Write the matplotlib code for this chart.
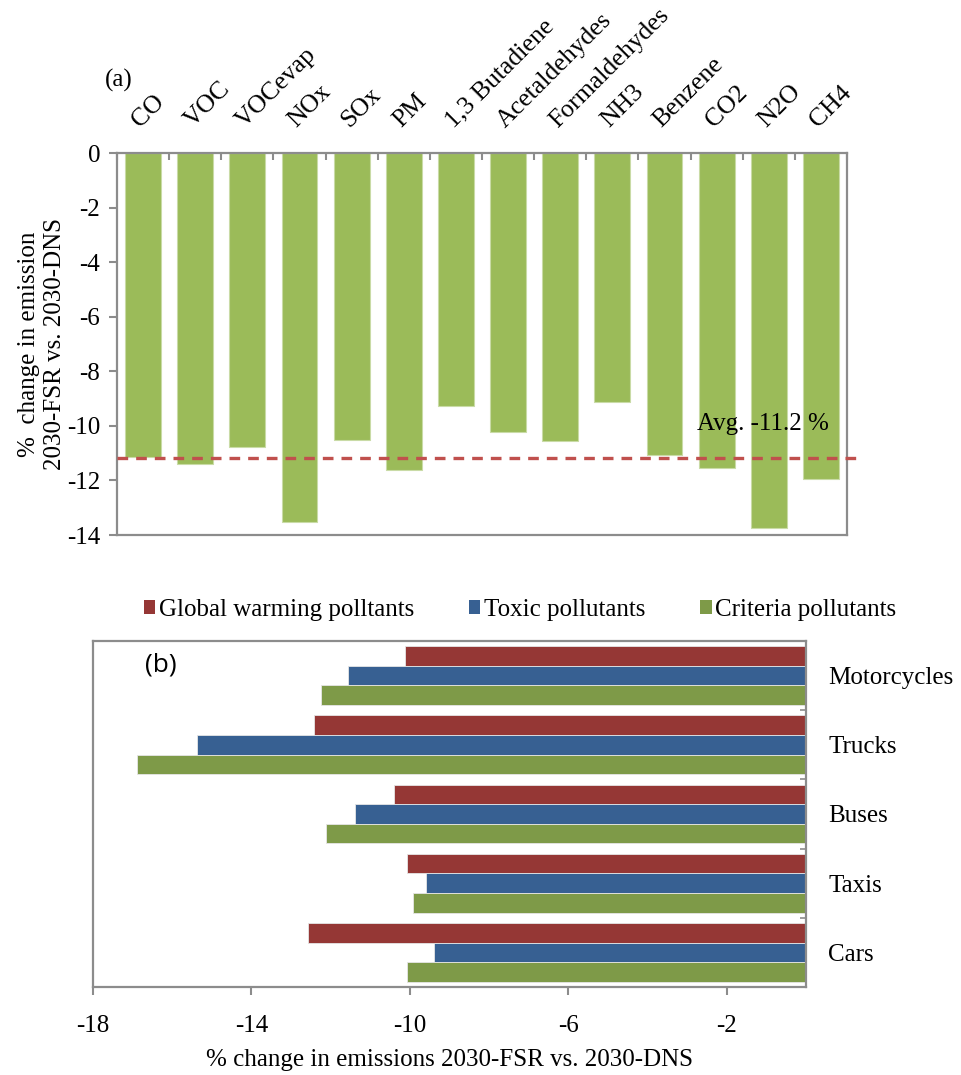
import numpy as np
import matplotlib
matplotlib.use("Agg")
import matplotlib.pyplot as plt
from matplotlib.patches import Patch

plt.rcParams['font.family'] = ['Liberation Serif', 'DejaVu Serif']
plt.rcParams['font.size'] = 18

# ---- panel (a): change per pollutant ----
pollutants = ["CO", "VOC", "VOCevap", "NOx", "SOx", "PM", "1,3 Butadiene",
              "Acetaldehydes", "Formaldehydes", "NH3", "Benzene", "CO2", "N2O", "CH4"]
pollutant_change = [-11.13, -11.39, -10.79, -13.51, -10.52, -11.61, -9.27,
                    -10.22, -10.56, -9.13, -11.07, -11.55, -13.75, -11.93]

# ---- panel (b): change per vehicle class ----
vehicles = ["Motorcycles", "Trucks", "Buses", "Taxis", "Cars"]
global_warming = [-10.12, -12.42, -10.40, -10.08, -12.56]
toxic = [-11.55, -15.37, -11.39, -9.60, -9.38]
criteria = [-12.25, -16.90, -12.12, -9.91, -10.07]
series_names = ["Global warming polltants", "Toxic pollutants", "Criteria pollutants"]

frame_color = "#8c8c8c"
green_a = "#9bbb59"
red_b, blue_b, green_b = "#953735", "#376092", "#7e9a48"

fig = plt.figure(figsize=(9.61, 10.75), dpi=100)

# ---------------- panel (a) ----------------
ax1 = fig.add_axes([117 / 961, 1 - 535 / 1075, 730 / 961, 382 / 1075])
x = np.arange(len(pollutants))
ax1.bar(x, pollutant_change, width=0.69, color=green_a, edgecolor="#c9dba6",
        linewidth=0.8, zorder=2)
ax1.set_xlim(-0.5, len(pollutants) - 0.5)
ax1.set_ylim(-14, 0)
ax1.set_yticks(np.arange(-14, 1, 2))
ax1.set_yticklabels([f"{v:d}" for v in np.arange(-14, 1, 2)])
ax1.tick_params(axis="y", direction="out", length=6, width=1.5, color=frame_color,
                pad=6, labelsize=18)
ax1.set_xticks(np.arange(-0.5, len(pollutants), 1.0))
ax1.tick_params(axis="x", which="both", top=True, bottom=False, labelbottom=False,
                labeltop=False, direction="in", length=5, width=1.5, color=frame_color)
for s in ax1.spines.values():
    s.set_color(frame_color)
    s.set_linewidth(1.6)

for i, name in enumerate(pollutants):
    ax1.annotate(name, xy=(i, 0), xycoords="data", xytext=(-2, 18),
                 textcoords="offset points", rotation=45, rotation_mode="anchor",
                 ha="left", va="baseline", fontsize=18.5, annotation_clip=False)

avg = float(np.mean(pollutant_change))
ax1.axhline(avg, xmin=0, xmax=1.012, color="#c0504d", linestyle=(0, (3.2, 2.4)),
            linewidth=2.4, clip_on=False, zorder=3)
ax1.text(10.62, -9.95, f"Avg. {avg:.1f} %", ha="left", va="center", fontsize=18,
         zorder=4)
ax1.set_ylabel("%  change in emission\n2030-FSR vs. 2030-DNS", fontsize=18,
               labelpad=1, linespacing=1.2)
fig.text(105 / 961, 1 - 80 / 1075, "(a)", fontsize=18, ha="left", va="center")

# ---------------- panel (b) ----------------
ax2 = fig.add_axes([93 / 961, 1 - 987 / 1075, 713 / 961, 346 / 1075])
pos = np.arange(len(vehicles))
h = 0.283
for vals, off, col, lab in [(global_warming, -h, red_b, series_names[0]),
                            (toxic, 0.0, blue_b, series_names[1]),
                            (criteria, h, green_b, series_names[2])]:
    ax2.barh(pos + off, vals, height=h, color=col, edgecolor="#e6e6e6",
             linewidth=0.6, label=lab, zorder=2)
ax2.set_ylim(len(vehicles) - 0.5, -0.5)
ax2.set_xlim(-18, 0)
ax2.set_xticks([-18, -14, -10, -6, -2])
ax2.set_xticklabels(["-18", "-14", "-10", "-6", "-2"])
ax2.tick_params(axis="x", direction="out", length=6, width=1.5, color=frame_color,
                pad=14, labelsize=18)
ax2.yaxis.tick_right()
ax2.set_yticks(pos)
ax2.set_yticklabels(vehicles)
ax2.set_yticks(np.arange(-0.5, len(vehicles), 1.0), minor=True)
ax2.tick_params(axis="y", which="both", direction="in", length=4, width=1.2,
                color=frame_color, pad=16, labelsize=18, left=False, right=True)
for s in ax2.spines.values():
    s.set_color(frame_color)
    s.set_linewidth(1.6)
ax2.set_xlabel("% change in emissions 2030-FSR vs. 2030-DNS", fontsize=18, labelpad=9)
ax2.text(0.095, 0.93, "(b)", transform=ax2.transAxes, fontsize=19, ha="center",
         va="center", family=["Open Sans", "DejaVu Sans"])

handles = [Patch(facecolor=c, edgecolor="none") for c in (red_b, blue_b, green_b)]
fig.legend(handles, series_names, loc="center", ncol=3,
           bbox_to_anchor=(520 / 961, 1 - 610 / 1075), frameon=False, fontsize=18,
           handlelength=0.45, handleheight=0.45, handletextpad=0.15,
           columnspacing=2.2)

fig.savefig("out.png", dpi=100)
